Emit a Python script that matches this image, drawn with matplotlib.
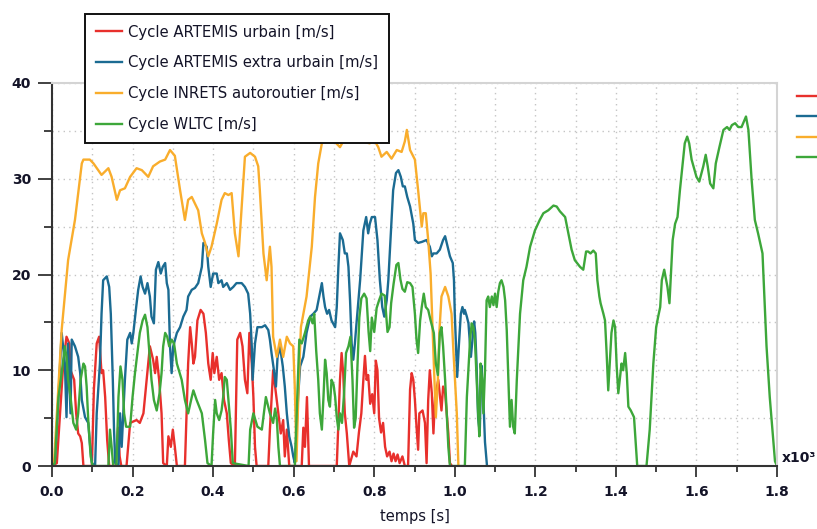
import matplotlib
matplotlib.use("Agg")
import matplotlib.pyplot as plt
from matplotlib.ticker import MultipleLocator, FormatStrFormatter

# ---------------- data (time in s, speed in m/s) ----------------
labels = ["Cycle ARTEMIS urbain [m/s]", "Cycle ARTEMIS extra urbain [m/s]",
          "Cycle INRETS autoroutier [m/s]", "Cycle WLTC [m/s]"]
colors = ["#e8302c", "#1b6b92", "#f9ad2c", "#3da73a"]

artemis_urbain = [(0,0),(12,0.3),(20,5.5),(28,10.7),(36,13.5),(43,12.8),(46,10),(55,9),(60,5.5),(65,3.4),
    (70,3.1),(74,2.4),(78,0),(99,0),(104,8),(111,12.8),(117,13.5),(123,9.7),(127,10),(132,7.2),(137,2.7),
    (142,0),(158,0),(164,4),(168,1),(172,0),(185,0),(194,4.5),(210,4.8),(218,4.5),(227,5.5),(235,9.0),
    (243,12.5),(251,11.1),(256,9.7),(260,11.4),(266,9),(272,5.5),(276,0.3),(285,0),(289,3.1),(295,2),
    (300,3.8),(305,2),(310,0),(330,0),(338,10.7),(343,14.5),(347,12.8),(351,10.7),(355,11.4),(361,15.2),
    (369,16.3),(376,15.9),(382,13.9),(388,10.7),(394,9.0),(399,11.8),(403,9.7),(409,11.4),(415,9.0),
    (421,9.7),(427,6.9),(434,5.5),(439,2.7),(444,0.3),(454,0),(460,13.2),(467,13.9),(473,12.5),(479,9),
    (485,7.6),(490,13.9),(496,10.7),(500,7.2),(504,2.0),(508,0),(537,0),(541,3.8),(549,10),(556,7.6),
    (562,5.5),(568,3.4),(574,4.8),(578,1.0),(583,3.8),(589,0),(620,0),(624,4),(628,2),(633,7.2),(638,0),
    (707,0),(715,9),(719,11.8),(723,9.7),(727,5.5),(732,3.4),(738,0),(748,1.5),(756,1),(762,3.5),
    (768,5.5),(773,9),(777,11.5),(781,9),(785,9.5),(790,6.5),(795,7.5),(800,5.5),(804,11),(808,10),
    (812,5),(817,3.5),(822,4.5),(827,2),(832,1),(838,1.5),(843,0.5),(848,1.3),(853,0.5),(858,1.2),
    (863,0.3),(870,1),(876,0),(884,0),(889,8),(893,9.7),(897,9.0),(901,6.9),(905,4.1),(909,1.7),
    (912,5.5),(920,5.8),(926,4.5),(930,0.3),(934,6.9),(938,10),(943,7.6),(947,3.4),(951,7.2),(959,9),
    (967,5.8),(971,8.3),(976,7.6),(980,5.5),(984,3.4),(988,0.3),(993,0)]

artemis_extra_urbain = [(0,0),(7,0.3),(16,7.2),(24,13.9),(32,10.7),(36,5.1),(40,12.8),(46,5.5),(49,13.2),
    (57,12.5),(65,11.4),(70,9.7),(74,6.9),(82,5.1),(90,4.5),(94,2.4),(99,0.3),(107,0),(111,5.5),(119,10.7),
    (123,15.9),(127,19.4),(136,19.8),(142,18.7),(146,15.9),(151,9),(154,3.8),(157,0.3),(165,0),(169,5.5),
    (173,2),(177,5.5),(181,9),(187,13.2),(194,13.9),(198,12.8),(202,13.9),(209,16.6),(214,18.4),(220,19.8),
    (225,18.7),(231,18.0),(237,19.1),(243,17.7),(247,15.6),(253,14.9),(258,20.5),(264,21.3),(270,20.1),
    (275,20.8),(281,21.2),(285,19.1),(289,18.4),(293,12.5),(297,9.7),(301,12.5),(310,13.9),(318,14.5),
    (326,15.6),(334,16.3),(338,17.7),(347,18.4),(355,18.6),(363,19.1),(372,20.8),(376,23.3),(384,22.9),
    (388,20.8),(394,18.7),(400,20.1),(409,20.1),(413,19.1),(421,19.4),(425,18.7),(434,19.1),(442,18.4),
    (450,18.7),(458,19.1),(471,19.1),(479,18.7),(487,18.0),(492,15.9),(496,12.5),(498,9.0),(504,12.8),
    (510,14.5),(521,14.5),(529,14.7),(537,14.2),(541,13.2),(545,11.8),(551,10),(556,8.3),(560,11.4),
    (566,12.5),(573,10.4),(578,8.3),(583,5.5),(589,3.1),(595,2.0),(599,1),(603,0.3),(611,7.2),(616,10.4),
    (624,11.4),(632,13.9),(641,15.6),(649,15.9),(657,16.3),(665,18.0),(670,19.1),(674,17.7),(678,16.6),
    (683,15.9),(688,16.3),(694,15.2),(703,14.5),(707,16.6),(711,20.8),(715,24.3),(722,23.6),(727,22.2),
    (732,22.2),(736,20.8),(740,17.3),(744,12.8),(748,11.1),(752,12.8),(756,14.9),(765,19.4),(773,24.6),
    (780,26.0),(785,24.3),(789,25.3),(794,26.0),(802,26.0),(808,23.6),(814,19.4),(820,16.6),(825,15.6),
    (831,17.3),(835,19.4),(841,24.0),(847,28.8),(854,30.6),(860,30.9),(866,30.2),(871,29.2),(876,29.2),
    (882,28.1),(889,27.1),(897,25.3),(901,23.6),(909,23.3),(918,23.4),(930,23.6),(938,22.9),(943,21.9),
    (947,22.2),(955,22.2),(963,22.6),(971,23.6),(976,24.0),(980,23.3),(984,22.6),(988,21.9),(995,21.2),
    (998,19.4),(1000,15.9),(1003,12.5),(1006,9.3),(1010,12.5),(1015,15.9),(1019,16.6),(1023,15.9),
    (1025,16.3),(1030,15.6),(1034,14.9),(1038,12.5),(1040,11.4),(1044,13.2),(1048,15.1),(1051,13.9),
    (1054,10.7),(1058,5),(1062,3.5),(1066,10.5),(1070,8),(1075,2.5),(1080,0)]

inrets_autoroutier = [(0,0),(5,0.3),(24,14.2),(40,21.5),(57,25.7),(74,31.6),(78,32.0),(94,32),(103,31.6),
    (123,30.4),(140,31.1),(148,30.2),(161,27.8),(169,28.8),(181,29.0),(194,30.2),(210,31.1),(223,30.9),
    (239,30.2),(251,31.3),(268,31.8),(281,32.0),(293,33.0),(305,32.4),(318,28.8),(330,25.7),(338,27.8),
    (347,28.1),(355,27.4),(363,26.7),(372,24.3),(380,23.3),(388,21.9),(396,22.9),(409,25.3),(421,27.8),
    (429,28.5),(438,28.3),(446,28.5),(454,24.3),(463,21.9),(471,27.1),(479,32.3),(492,32.7),(504,32.3),
    (512,31.3),(516,28.8),(525,22.2),(533,19.4),(541,22.9),(545,20.8),(549,13.5),(558,11.4),(566,13.2),
    (574,11.4),(583,13.5),(591,12.8),(599,12.5),(603,8),(607,0.5),(612,8),(618,14.5),(632,17.7),
    (645,22.9),(653,28.1),(661,31.6),(670,33.7),(682,34.0),(699,34),(715,33.3),(723,33.9),(736,34),
    (756,34),(789,33.7),(798,34.2),(810,33.3),(818,32.3),(831,32.8),(843,32.1),(856,33.0),(868,32.8),
    (876,33.9),(881,35.1),(889,33.0),(901,32.0),(909,28.8),(918,25.0),(922,26.4),(928,26.4),(934,23.6),
    (940,20.1),(945,14.2),(948,10.7),(953,5.1),(958,9),(962,14.2),(967,17.7),(976,18.7),(984,17.7),
    (992,15.9),(996,12.5),(1005,5.5),(1009,0)]

wltc = [(0,0),(7,0.3),(16,7.2),(24,9.7),(32,12.5),(36,11.4),(40,9),(46,7.2),(53,4.5),(60,3.8),(65,5.5),
    (71,9),(78,10.7),(82,10.4),(86,8.3),(90,4.8),(96,1),(101,0),(140,0),(144,3.8),(148,2),(152,0),(160,0),
    (165,7.2),(170,10.4),(175,9),(179,5.5),(184,4.1),(194,4.1),(200,7.2),(206,9.7),(212,11.8),(218,13.9),
    (225,15.2),(231,15.8),(237,14.5),(242,11.8),(247,9),(253,6.9),(260,5.8),(267,7.6),(272,9.7),
    (276,12.5),(281,13.9),(286,13.5),(291,12.5),(297,13.2),(303,12.8),(310,10.7),(322,9),(330,6.9),
    (338,5.5),(347,7.2),(351,7.9),(359,6.9),(372,5.5),(380,2.7),(386,0.3),(396,0),(400,3.4),(405,6.9),
    (409,5.5),(415,4.8),(421,5.8),(425,7.2),(429,9.3),(434,9),(438,6.9),(444,3.8),(449,0.3),(488,0),
    (492,3.8),(500,5.5),(510,4.1),(521,3.8),(531,7.2),(541,5.5),(549,4.5),(554,6),(558,5),(562,2),
    (566,0),(603,0),(609,7.2),(614,13.2),(620,12.8),(628,13.9),(636,15.2),(641,15.6),(647,14.9),
    (651,15.9),(656,12),(661,9),(665,5.5),(670,3.8),(674,7.2),(678,11.1),(682,9.7),(686,6.9),(690,6.2),
    (694,9),(699,8.5),(703,7.2),(707,5.1),(711,3.8),(715,5.5),(720,4.5),(725,7.5),(730,11.8),(736,12.5),
    (741,13.5),(746,9),(750,4),(754,5),(758,10),(763,15.5),(768,17.5),(775,18),(781,17.5),(786,14),
    (790,12),(794,15.5),(800,14),(806,16.5),(812,17.3),(818,18),(826,17.8),(833,14),(838,14.5),(842,17),
    (848,19),(855,21),(860,21.2),(865,19.5),(870,18.5),(876,18.2),(882,19.2),(889,19.1),(895,18.7),
    (901,15.9),(905,13.2),(909,11.8),(914,15.2),(918,16.6),(923,18.0),(928,16.6),(934,16.3),(940,15.2),
    (948,13.9),(953,10.7),(958,9.5),(963,13.9),(967,14.5),(971,12.5),(976,9),(980,5.5),(984,2),(988,0),
    (1025,0),(1030,7.2),(1038,13.2),(1042,14.9),(1046,14.5),(1050,13.2),(1054,9.3),(1058,5.5),(1061,3.1),
    (1064,10.7),(1068,9),(1071,5.5),(1075,10),(1079,17.3),(1083,17.7),(1087,16.6),(1092,17.7),(1096,16.8),
    (1100,18.0),(1104,16.6),(1108,18.2),(1112,19.1),(1116,19.4),(1121,18.7),(1125,17.3),(1129,14.2),
    (1133,9),(1137,4.1),(1141,6.9),(1145,4.1),(1149,3.4),(1154,9),(1158,12.5),(1162,15.9),(1170,19.4),
    (1178,20.8),(1187,22.9),(1199,24.6),(1211,25.7),(1220,26.4),(1232,26.7),(1245,27.2),(1253,27.1),
    (1261,26.6),(1274,26.0),(1282,24.3),(1290,22.6),(1298,21.5),(1311,20.8),(1319,20.5),(1326,22.4),
    (1331,22.4),(1337,22.2),(1344,22.5),(1350,22.2),(1354,19.4),(1359,17.7),(1362,17.0),(1369,15.9),
    (1373,15.2),(1377,11.8),(1381,7.9),(1389,13.9),(1394,15.2),(1398,14.5),(1402,10.4),(1406,7.6),
    (1414,10.7),(1418,10),(1423,11.8),(1427,9.7),(1431,6.2),(1437,5.8),(1445,5.1),(1450,2),(1453,0),
    (1476,0),(1484,3.8),(1493,10.7),(1500,14.5),(1505,15.6),(1510,16.6),(1514,19.4),(1520,20.5),
    (1528,18.7),(1533,17.0),(1541,23.6),(1547,25.3),(1553,26.0),(1559,28.8),(1566,31.6),(1571,33.7),
    (1577,34.4),(1582,33.7),(1588,32.0),(1600,30.2),(1607,29.7),(1617,31.3),(1623,32.5),(1628,31.3),
    (1634,29.5),(1642,29.0),(1648,31.6),(1657,33.3),(1667,35.1),(1676,35.4),(1682,35.1),(1688,35.6),
    (1696,35.8),(1704,35.4),(1712,35.4),(1718,36.0),(1723,36.5),(1729,35.1),(1737,29.9),(1745,25.7),
    (1753,24.3),(1764,22.2),(1774,12.5),(1782,7.2),(1795,0.5),(1800,0)]

series = [artemis_urbain, artemis_extra_urbain, inrets_autoroutier, wltc]
x_ticks = [0.0, 0.2, 0.4, 0.6, 0.8, 1.0, 1.2, 1.4, 1.6, 1.8]
y_ticks = [0, 10, 20, 30, 40]

# ---------------- figure ----------------
W, H = 817, 529
fig = plt.figure(figsize=(W / 100, H / 100), dpi=100)
ax = fig.add_axes([52 / W, 1 - 466 / H, (777 - 52) / W, (466 - 83) / H])

lines = []
for pts, lab, col in zip(series, labels, colors):
    t = [p[0] / 1000.0 for p in pts]
    v = [p[1] for p in pts]
    ln, = ax.plot(t, v, color=col, lw=1.7, label=lab, solid_joinstyle="round")
    lines.append(ln)

ax.set_xlim(0, 1.8)
ax.set_ylim(0, 40)
ax.set_xticks(x_ticks)
ax.set_yticks(y_ticks)
ax.xaxis.set_minor_locator(MultipleLocator(0.1))
ax.yaxis.set_minor_locator(MultipleLocator(5))
ax.xaxis.set_major_formatter(FormatStrFormatter("%.1f"))

for lab in ax.get_xticklabels() + ax.get_yticklabels():
    lab.set_fontweight("bold")
    lab.set_fontsize(10)
    lab.set_color("#141428")
ax.tick_params(axis="y", which="major", length=10, width=1.3, color="#333333", pad=5)
ax.tick_params(axis="y", which="minor", length=6, width=1.3, color="#333333")
ax.tick_params(axis="x", which="major", length=8, width=1.3, color="#333333", pad=6)
ax.tick_params(axis="x", which="minor", length=4, width=1.3, color="#333333")

ax.grid(which="both", color="#c4c4c4", linestyle=(0, (1, 3)), linewidth=1.0)
ax.set_axisbelow(True)

for s in ["left", "bottom"]:
    ax.spines[s].set_color("#333333")
    ax.spines[s].set_linewidth(1.5)
for s in ["top", "right"]:
    ax.spines[s].set_color("#d4d4d4")
    ax.spines[s].set_linewidth(1.5)

ax.set_xlabel("temps [s]", fontsize=10.5, color="#141428", labelpad=7)

fig.text(782 / W, 1 - 462 / H, "x10\u00b3", fontsize=10, fontweight="bold",
         color="#141428", ha="left", va="baseline")

leg = ax.legend(handles=lines, loc="upper left",
                bbox_to_anchor=(85 / W, 1 - 14 / H), bbox_transform=fig.transFigure,
                borderaxespad=0, fontsize=10.7, frameon=True, fancybox=False,
                framealpha=1, edgecolor="#111111", borderpad=0.72,
                labelspacing=1.06, handlelength=1.8, handletextpad=0.4)
leg.get_frame().set_linewidth(1.4)
for tx in leg.get_texts():
    tx.set_color("#141428")
leg.set_zorder(10)

# second (clipped) legend at the right edge: only the line keys are visible
leg2 = fig.legend(handles=lines, labels=["", "", "", ""], loc="upper left",
                  bbox_to_anchor=(797 / W, 1 - 90 / H), borderaxespad=0,
                  frameon=False, borderpad=0, fontsize=9, labelspacing=0.6,
                  handlelength=2.2, handletextpad=0.4)

fig.savefig("out.png", dpi=100)
